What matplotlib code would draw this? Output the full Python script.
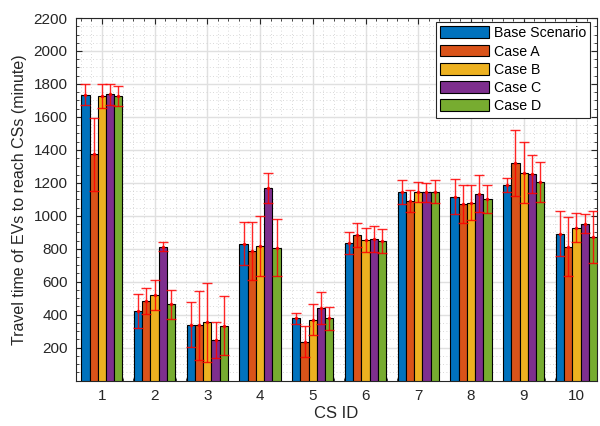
import matplotlib
matplotlib.use('Agg')
import matplotlib.pyplot as plt
from matplotlib.ticker import MultipleLocator
import numpy as np

plt.rcParams['font.family'] = ['Liberation Sans', 'DejaVu Sans']

cs_ids = [1, 2, 3, 4, 5, 6, 7, 8, 9, 10]
series_names = ['Base Scenario', 'Case A', 'Case B', 'Case C', 'Case D']

base_mean = [1734, 422, 340, 831, 378, 835, 1143, 1117, 1186, 890]
base_err = [63, 105, 135, 131, 34, 66, 74, 106, 44, 136]
case_a_mean = [1372, 483, 336, 785, 236, 882, 1090, 1070, 1319, 813]
case_a_err = [223, 77, 210, 176, 95, 74, 67, 115, 200, 181]
case_b_mean = [1728, 520, 354, 815, 370, 852, 1147, 1080, 1262, 927]
case_b_err = [73, 91, 240, 183, 96, 72, 61, 108, 186, 88]
case_c_mean = [1736, 813, 245, 1169, 439, 858, 1143, 1135, 1253, 953]
case_c_err = [66, 26, 108, 91, 96, 80, 57, 113, 114, 60]
case_d_mean = [1728, 463, 333, 807, 378, 846, 1147, 1103, 1204, 872]
case_d_err = [62, 89, 180, 174, 70, 72, 71, 86, 120, 158]

means = [base_mean, case_a_mean, case_b_mean, case_c_mean, case_d_mean]
errs = [base_err, case_a_err, case_b_err, case_c_err, case_d_err]
colors = ['#0072BD', '#D95319', '#EDB120', '#7E2F8E', '#77AC30']

fig = plt.figure(figsize=(6.0, 4.26), dpi=100)
ax = fig.add_axes([0.1267, 0.1066, 0.8683, 0.8511])

x = np.array(cs_ids, dtype=float)
width = 0.156
for i, (m, e, c, name) in enumerate(zip(means, errs, colors, series_names)):
    pos = x + (i - 2) * width
    ax.bar(pos, m, width=width, color=c, edgecolor='black', linewidth=0.8,
           label=name, zorder=3)
    ax.errorbar(pos, m, yerr=e, fmt='.', color='red', ecolor='red',
                markersize=3, elinewidth=1.0, capsize=3.6, capthick=1.0,
                alpha=0.85, zorder=4)

ax.set_xlim(0.51, 10.39)
ax.set_ylim(0, 2200)
ax.set_xticks(cs_ids)
ax.set_yticks(np.arange(200, 2201, 200))
ax.xaxis.set_minor_locator(MultipleLocator(0.2))
ax.yaxis.set_minor_locator(MultipleLocator(50))
ax.grid(which='major', color='#e0e0e0', linewidth=1.0, linestyle='-', zorder=0)
ax.grid(which='minor', color='#cccccc', linewidth=0.6, linestyle=(0, (1, 3)), zorder=0)
ax.set_axisbelow(True)

ax.tick_params(which='both', direction='in', colors='#262626', labelsize=11,
               top=True, right=True)
ax.tick_params(which='major', length=4, pad=6)
ax.tick_params(which='minor', length=2)
for s in ax.spines.values():
    s.set_color('#262626')
    s.set_linewidth(0.8)

ax.set_xlabel('CS ID', fontsize=12, color='#262626', labelpad=2)
ax.set_ylabel('Travel time of EVs to reach CSs (minute)', fontsize=11.5,
              color='#262626', labelpad=5)

leg = ax.legend(loc='upper right', fontsize=10.2, fancybox=False, framealpha=1,
                edgecolor='#262626', handlelength=3.4, handleheight=0.9,
                handletextpad=0.35, labelspacing=0.3, borderpad=0.3,
                borderaxespad=0, bbox_to_anchor=(0.9866, 0.989))
leg.get_frame().set_linewidth(0.8)

fig.savefig('out.png', dpi=100, facecolor='white')
